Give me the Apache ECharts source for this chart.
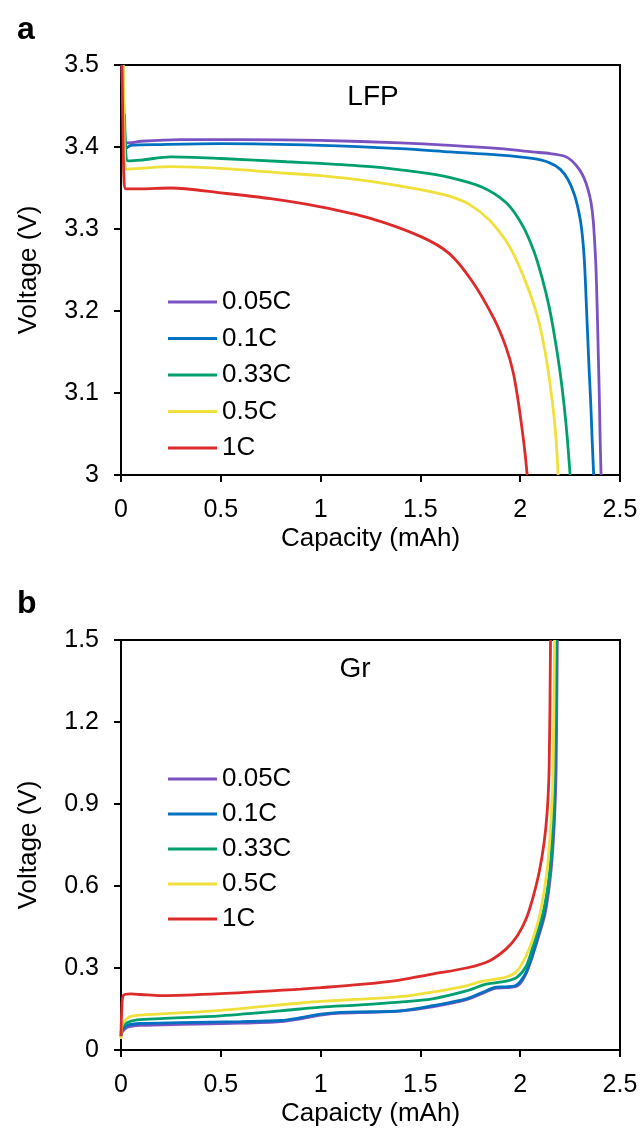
<!DOCTYPE html>
<html>
<head>
<meta charset="utf-8">
<script src="https://cdn.jsdelivr.net/npm/echarts@6/dist/echarts.min.js"></script>
<style>
html,body{margin:0;padding:0;background:#fff;}
#chart{width:643px;height:1140px;}
</style>
</head>
<body>
<div id="chart"></div>
<script>
// ---- Data (capacity mAh, voltage V) ----
const rates = ['0.05C', '0.1C', '0.33C', '0.5C', '1C'];
const colors = ['#7B52C1', '#0070C0', '#00A06E', '#F0E03C', '#DD2A2A'];

// Panel a: LFP
const lfp_005C = [[0.005,3.5],[0.012,3.43],[0.02,3.405],[0.04,3.405],[0.1,3.407],[0.3,3.409],[0.6,3.409],[1.0,3.408],[1.4,3.405],[1.65,3.402],[1.9,3.398],[2.06,3.394],[2.15,3.392],[2.22,3.389],[2.26,3.383],[2.295,3.373],[2.32,3.362],[2.34,3.348],[2.355,3.332],[2.366,3.31],[2.374,3.28],[2.38,3.25],[2.386,3.2],[2.391,3.15],[2.396,3.1],[2.4,3.05],[2.405,3.0]];
const lfp_01C = [[0.01,3.5],[0.018,3.42],[0.028,3.399],[0.05,3.402],[0.2,3.403],[0.5,3.404],[1.0,3.402],[1.4,3.398],[1.65,3.394],[1.9,3.39],[2.06,3.386],[2.145,3.381],[2.2,3.373],[2.24,3.36],[2.27,3.343],[2.29,3.325],[2.305,3.305],[2.316,3.28],[2.324,3.25],[2.331,3.21],[2.338,3.17],[2.345,3.13],[2.353,3.09],[2.361,3.04],[2.368,3.0]];
const lfp_033C = [[0.018,3.44],[0.025,3.39],[0.035,3.383],[0.1,3.384],[0.25,3.388],[0.5,3.386],[0.83,3.382],[1.0,3.38],[1.25,3.376],[1.5,3.369],[1.645,3.363],[1.81,3.351],[1.93,3.332],[2.01,3.305],[2.07,3.272],[2.11,3.24],[2.145,3.205],[2.175,3.165],[2.2,3.125],[2.22,3.085],[2.236,3.045],[2.25,3.0]];
const lfp_05C = [[0.012,3.5],[0.018,3.39],[0.028,3.373],[0.1,3.374],[0.25,3.376],[0.5,3.374],[0.83,3.368],[1.0,3.365],[1.25,3.358],[1.5,3.348],[1.645,3.34],[1.745,3.33],[1.845,3.311],[1.93,3.285],[1.985,3.26],[2.045,3.224],[2.09,3.19],[2.125,3.15],[2.15,3.11],[2.17,3.07],[2.182,3.035],[2.19,3.0]];
const lfp_1C = [[0.005,3.5],[0.01,3.42],[0.015,3.36],[0.025,3.349],[0.1,3.349],[0.25,3.35],[0.5,3.344],[0.75,3.337],[1.0,3.327],[1.25,3.313],[1.5,3.291],[1.645,3.27],[1.76,3.236],[1.87,3.19],[1.93,3.155],[1.965,3.125],[1.99,3.09],[2.01,3.055],[2.025,3.025],[2.035,3.0]];

// Panel b: Gr
const gr_005C = [[0.0,0.05],[0.005,0.065],[0.03,0.083],[0.1,0.09],[0.3,0.094],[0.6,0.098],[0.8,0.104],[0.9,0.114],[1.0,0.128],[1.1,0.135],[1.25,0.138],[1.395,0.142],[1.56,0.158],[1.73,0.184],[1.83,0.213],[1.88,0.226],[1.93,0.228],[1.975,0.232],[2.0,0.243],[2.03,0.28],[2.06,0.34],[2.09,0.41],[2.125,0.5],[2.155,0.66],[2.172,0.845],[2.18,1.03],[2.186,1.5]];
const gr_01C = [[0.0,0.05],[0.005,0.072],[0.03,0.09],[0.1,0.097],[0.3,0.1],[0.6,0.104],[0.8,0.108],[0.9,0.118],[1.0,0.131],[1.1,0.138],[1.25,0.14],[1.395,0.143],[1.56,0.162],[1.73,0.187],[1.83,0.217],[1.88,0.23],[1.93,0.231],[1.975,0.235],[2.0,0.25],[2.03,0.285],[2.06,0.345],[2.09,0.42],[2.12,0.5],[2.15,0.66],[2.168,0.845],[2.175,1.03],[2.18,1.5]];
const gr_033C = [[0.0,0.06],[0.005,0.08],[0.03,0.1],[0.08,0.11],[0.2,0.115],[0.5,0.125],[0.9,0.15],[1.0,0.157],[1.2,0.165],[1.395,0.175],[1.56,0.187],[1.73,0.216],[1.83,0.241],[1.93,0.252],[1.985,0.267],[2.03,0.307],[2.06,0.37],[2.09,0.44],[2.12,0.52],[2.15,0.66],[2.165,0.845],[2.172,1.03],[2.178,1.5]];
const gr_05C = [[0.0,0.04],[0.005,0.09],[0.03,0.115],[0.06,0.125],[0.2,0.132],[0.5,0.145],[0.9,0.172],[1.0,0.178],[1.2,0.186],[1.395,0.195],[1.56,0.212],[1.73,0.235],[1.8,0.25],[1.93,0.267],[1.985,0.29],[2.03,0.345],[2.065,0.41],[2.1,0.5],[2.135,0.66],[2.155,0.845],[2.165,1.03],[2.172,1.5]];
const gr_1C = [[0.0,0.05],[0.004,0.15],[0.012,0.2],[0.05,0.205],[0.1,0.203],[0.2,0.199],[0.5,0.206],[0.9,0.223],[1.0,0.228],[1.2,0.24],[1.395,0.256],[1.56,0.278],[1.73,0.3],[1.845,0.326],[1.93,0.37],[1.985,0.417],[2.03,0.48],[2.065,0.56],[2.095,0.65],[2.12,0.76],[2.135,0.87],[2.145,1.03],[2.152,1.5]];

const lfpSeries = [lfp_005C, lfp_01C, lfp_033C, lfp_05C, lfp_1C];
const grSeries = [gr_005C, gr_01C, gr_033C, gr_05C, gr_1C];

const FONT = 'Liberation Sans, Arial, sans-serif';
const chart = echarts.init(document.getElementById('chart'), null, {renderer: 'canvas'});

function xAxisCfg(gridIndex, name) {
  return {
    type: 'value', gridIndex, min: 0, max: 2.5, interval: 0.5,
    name, nameLocation: 'middle', nameGap: 51,
    nameTextStyle: {fontSize: 26, color: '#000', fontFamily: FONT},
    axisLine: {show: true, onZero: false, lineStyle: {color: '#000', width: 2}},
    axisTick: {show: true, inside: false, length: 7, lineStyle: {color: '#000', width: 2}},
    axisLabel: {fontSize: 25, color: '#000', fontFamily: FONT, margin: 23},
    splitLine: {show: false}
  };
}
function yAxisCfg(gridIndex, min, max, interval) {
  return {
    type: 'value', gridIndex, min, max, interval,
    name: 'Voltage (V)', nameLocation: 'middle', nameGap: 79, nameRotate: 90,
    nameTextStyle: {fontSize: 26, color: '#000', fontFamily: FONT},
    axisLine: {show: true, onZero: false, lineStyle: {color: '#000', width: 2}},
    axisTick: {show: true, inside: false, length: 7, lineStyle: {color: '#000', width: 2}},
    axisLabel: {fontSize: 25, color: '#000', fontFamily: FONT, margin: 22,
      formatter: v => String(parseFloat(v.toFixed(2)))},
    splitLine: {show: false}
  };
}

const series = [];
rates.forEach((r, i) => {
  series.push({name: r, type: 'line', xAxisIndex: 0, yAxisIndex: 0, data: lfpSeries[i],
    showSymbol: false, symbol: 'none', smooth: 0.3, clip: true,
    lineStyle: {color: colors[i], width: 2.8}, itemStyle: {color: colors[i]}, z: 2 + i});
});
rates.forEach((r, i) => {
  series.push({name: r, type: 'line', xAxisIndex: 1, yAxisIndex: 1, data: grSeries[i],
    showSymbol: false, symbol: 'none', smooth: 0.3, clip: true,
    lineStyle: {color: colors[i], width: 2.8}, itemStyle: {color: colors[i]}, z: 2 + i});
});

const legendCommon = {
  orient: 'vertical', left: 163, icon: 'rect', itemWidth: 49, itemHeight: 3,
  textStyle: {fontSize: 26, color: '#000', fontFamily: FONT, lineHeight: 26},
  data: rates, selectedMode: false
};

chart.setOption({
  animation: false,
  backgroundColor: '#fff',
  grid: [
    {left: 121, top: 65, width: 499, height: 410, show: true, borderColor: '#000', borderWidth: 2, containLabel: false},
    {left: 121, top: 640, width: 499, height: 410, show: true, borderColor: '#000', borderWidth: 2, containLabel: false}
  ],
  xAxis: [xAxisCfg(0, 'Capacity (mAh)'), xAxisCfg(1, 'Capaicty (mAh)')],
  yAxis: [yAxisCfg(0, 3, 3.5, 0.1), yAxisCfg(1, 0, 1.5, 0.3)],
  legend: [
    Object.assign({}, legendCommon, {top: 284, itemGap: 10.5}),
    Object.assign({}, legendCommon, {top: 761, itemGap: 9})
  ],
  graphic: [
    {type: 'text', left: 17, top: 14, style: {text: 'a', font: 'bold 32px ' + FONT, fill: '#000'}},
    {type: 'text', left: 17, top: 588, style: {text: 'b', font: 'bold 32px ' + FONT, fill: '#000'}},
    {type: 'text', style: {x: 373, y: 97, text: 'LFP', font: '28px ' + FONT, fill: '#000', textAlign: 'center', textVerticalAlign: 'middle'}},
    {type: 'text', style: {x: 355, y: 669, text: 'Gr', font: '28px ' + FONT, fill: '#000', textAlign: 'center', textVerticalAlign: 'middle'}}
  ],
  series
});
</script>
</body>
</html>
